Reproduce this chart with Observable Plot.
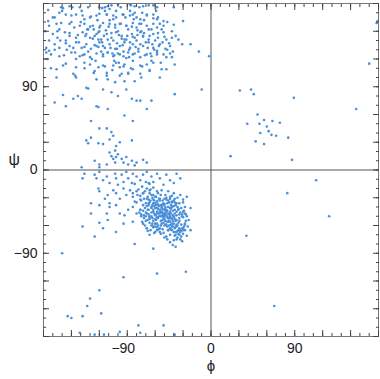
<!DOCTYPE html>
<html><head><meta charset="utf-8">
<script src="https://cdn.jsdelivr.net/npm/d3@7"></script>
<script src="https://cdn.jsdelivr.net/npm/@observablehq/plot@0.6"></script>
<style>html,body{margin:0;padding:0;background:#fff}</style>
</head><body><div id="chart"></div>
<script>
// [phi, psi] pairs, by region
const betaSheet = [
[-175,173],[-161,176],[-159,175],[-152,177],[-141,176],[-132,176],[-120,176],[-114,176],[-111,177],[-109,174],[-100,179],[-87,179],[-82,177],[-73,177],[-62,178],[-58,176],[-40,176],
[-163,170],[-156,168],[-150,167],[-145,168],[-138,167],[-136,163],[-130,165],[-123,167],[-120,169],[-112,168],[-105,167],[-102,165],[-94,168],[-87,167],[-84,168],[-80,165],[-76,163],[-69,167],[-62,168],[-58,163],[-51,161],[-30,161],[-175,161],[-168,165],
[-174,156],[-166,158],[-161,159],[-152,158],[-147,154],[-141,156],[-136,158],[-132,152],[-127,156],[-120,154],[-116,159],[-109,158],[-103,154],[-98,158],[-91,156],[-84,159],[-80,154],[-75,158],[-69,156],[-64,152],[-58,154],[-51,156],[-40,157],[-163,152],
[-170,147],[-165,143],[-157,149],[-152,145],[-145,143],[-138,149],[-134,147],[-130,143],[-125,145],[-121,149],[-118,141],[-112,147],[-107,143],[-102,149],[-96,145],[-91,141],[-85,147],[-82,143],[-76,149],[-73,145],[-67,141],[-62,147],[-57,143],[-51,149],[-48,141],[-42,143],[-35,141],[-31,136],[-156,140],
[-177,132],[-174,129],[-168,136],[-163,132],[-152,134],[-145,138],[-139,132],[-134,136],[-129,131],[-123,134],[-120,138],[-114,132],[-109,136],[-103,131],[-98,134],[-93,138],[-87,132],[-84,136],[-78,131],[-73,134],[-67,138],[-62,132],[-58,129],[-55,136],[-49,131],[-44,134],[-177,127],
[-172,125],[-163,123],[-150,127],[-141,123],[-136,125],[-130,122],[-123,126],[-116,125],[-111,127],[-105,123],[-100,126],[-94,123],[-89,127],[-84,125],[-76,122],[-69,125],[-64,123],[-58,127],[-51,125],[-44,126],[-42,122],
[-166,109],[-159,113],[-145,111],[-136,116],[-130,114],[-125,107],[-121,111],[-116,113],[-112,105],[-105,113],[-102,116],[-98,111],[-93,114],[-89,105],[-84,109],[-76,113],[-66,107],[-62,116],[-53,109],[-48,109],[-39,114],
[-148,104],[-145,100],[-134,89],[-123,98],[-112,102],[-111,98],[-103,95],[-98,102],[-93,96],[-89,104],[-82,96],[-75,100],[-55,100],
[-159,81],[-168,73],[-156,69],[-148,77],[-143,80],[-139,77],[-132,88],[-123,69],[-121,68],[-116,87],[-111,66],[-107,84],[-100,80],[-91,87],[-85,77],[-80,75],[-76,75],[-69,66],[-64,75],[-39,82]
];
const betaCore = [
[-120,150],[-115,145],[-110,155],[-105,140],[-100,150],[-95,135],[-90,145],[-85,155],[-80,140],[-75,150],
[-125,135],[-130,155],[-135,145],[-140,160],[-118,128],[-108,132],[-98,125],[-88,130],[-78,128],[-68,132],
[-122,162],[-112,168],[-102,172],[-92,165],[-82,170],[-72,162],[-62,158],[-66,145],[-70,138],[-60,140],
[-127,142],[-117,138],[-107,148],[-97,158],[-87,138],[-77,158],[-67,152],[-57,148],[-52,138],[-47,130],
[-132,128],[-142,138],[-152,148],[-162,140],[-145,120],[-155,130],[-165,150],[-170,165],[-160,172],[-150,160],
[-124,118],[-114,112],[-104,118],[-94,112],[-84,118],[-74,112],[-64,118],[-58,125],[-54,116],[-48,122],
[-119,156],[-109,162],[-99,146],[-89,152],[-79,146],[-69,168],[-59,172],[-129,166],[-139,172],[-149,176],
[-121,133],[-111,127],[-101,137],[-91,121],[-81,133],[-71,124],[-61,130],[-136,133],[-146,127],[-156,137],
[-113,151],[-103,157],[-93,141],[-83,163],[-73,144],[-63,136],[-53,152],[-123,147],[-133,152],[-143,146],
[-116,123],[-106,108],[-96,104],[-86,110],[-76,104],[-66,108],[-126,105],[-136,110],[-146,102],[-156,115],
[-117,175],[-107,178],[-97,176],[-87,172],[-77,176],[-67,178],[-57,165],[-47,160],[-42,150],[-38,145],
[-128,120],[-138,124],[-148,132],[-158,124],[-168,130],[-174,140],[-178,150],[-176,120],[-172,110],[-166,100],
[-84,144],[-79,151],[-91,156],[-96,142],[-101,131],[-106,126],[-111,141],[-116,134],[-121,141],[-126,152],
[-72,148],[-76,136],[-82,126],[-88,122],[-94,128],[-99,116],[-104,124],[-65,126],[-69,114],[-56,134],
[-50,144],[-45,137],[-41,128],[-55,158],[-62,164],[-74,170],[-86,178],[-95,168],[-105,163],[-114,172]
];
const bridge = [
[-129,53],[-120,45],[-112,45],[-134,32],[-132,29],[-129,35],[-121,29],[-116,28],[-107,41],[-105,37],[-93,59],[-84,53],[-85,32],[-109,33],[-103,21],[-102,26],[-98,30],
[-125,10],[-120,6],[-109,19],[-107,15],[-105,12],[-103,8],[-102,14],[-100,17],[-96,12],[-94,8],[-91,14],[-89,6],[-85,10],[-82,5],[-80,8],[-139,3],[-120,3],[-112,6],[-73,11],[-69,8],
[-22,136],[-13,128],[-2,123],[-10,87]
];
const alphaHelix = [
[-138,-9],[-136,-4],[-125,-5],[-123,-9],[-120,-2],[-116,-11],[-112,-7],[-109,-14],[-103,-4],[-102,-9],[-100,-16],[-96,-5],[-94,-13],[-91,-2],[-89,-9],[-85,-14],[-84,-4],[-80,-7],[-76,-11],[-73,-5],[-69,-2],[-67,-14],[-64,-7],[-62,-13],[-58,-4],[-55,-9],[-51,-16],[-48,-5],[-44,-11],[-40,-14],[-37,-4],[-33,-9],
[-121,-20],[-120,-23],[-114,-31],[-111,-27],[-109,-36],[-105,-22],[-102,-25],[-98,-31],[-94,-20],[-91,-27],[-87,-22],[-84,-29],[-82,-34],[-80,-23],[-76,-32],[-73,-25],[-69,-31],[-67,-36],[-66,-22],[-64,-27],[-62,-32],[-60,-29],[-58,-34],[-57,-25],[-55,-31],[-53,-22],[-51,-36],[-49,-27],[-48,-32],[-46,-23],[-44,-29],[-42,-34],[-40,-25],[-39,-31],[-37,-36],[-33,-27],[-30,-32],[-26,-29],[-22,-41],[-129,-36],
[-129,-47],[-120,-38],[-112,-47],[-109,-40],[-102,-38],[-98,-47],[-93,-49],[-89,-43],[-84,-40],[-80,-47],[-76,-43],[-75,-50],[-73,-38],[-71,-41],[-69,-47],[-67,-43],[-66,-50],[-64,-40],[-62,-45],[-60,-49],[-58,-41],[-57,-52],[-55,-45],[-53,-40],[-51,-50],[-49,-47],[-48,-43],[-46,-52],[-44,-45],[-42,-40],[-40,-50],[-39,-47],[-37,-54],[-35,-43],[-31,-50],[-28,-47],[-24,-54],
[-138,-61],[-125,-72],[-120,-57],[-116,-63],[-111,-54],[-102,-67],[-94,-58],[-84,-56],[-82,-80],[-73,-58],[-69,-63],[-66,-70],[-62,-61],[-60,-67],[-58,-58],[-55,-63],[-51,-68],[-49,-59],[-48,-72],[-46,-65],[-44,-70],[-42,-61],[-40,-76],[-39,-67],[-37,-61],[-33,-65],[-30,-63],[-28,-59],[-62,-85],[-22,-65]
];
const alphaCore = [
[-78,-21],[-76,-28],[-74,-18],[-72,-31],[-71,-23],[-70,-36],[-75,-33],[-79,-27],[-73,-25],[-69,-20],
[-68,-29],[-67,-38],[-66,-25],[-65,-33],[-64,-41],[-63,-30],[-62,-36],[-68,-43],[-65,-21],[-62,-27],[-67,-32],[-64,-46],[-69,-39],[-63,-38],[-66,-35],
[-61,-33],[-60,-41],[-59,-29],[-58,-45],[-57,-37],[-56,-50],[-55,-33],[-61,-47],[-59,-38],[-57,-42],[-56,-31],[-60,-36],[-58,-51],[-55,-43],[-62,-43],[-59,-48],[-57,-47],[-56,-39],[-61,-39],[-58,-34],
[-54,-45],[-53,-41],[-52,-49],[-51,-38],[-50,-53],[-49,-44],[-48,-49],[-54,-55],[-53,-50],[-52,-43],[-51,-57],[-50,-47],[-49,-40],[-48,-59],[-54,-38],[-53,-46],[-52,-54],[-51,-48],[-50,-42],[-49,-55],[-48,-45],[-54,-50],[-52,-37],[-50,-60],[-53,-58],[-51,-52],[-49,-49],[-55,-47],[-52,-46],[-50,-50],
[-47,-51],[-46,-47],[-45,-55],[-44,-50],[-43,-59],[-42,-53],[-41,-61],[-47,-61],[-46,-56],[-45,-48],[-44,-63],[-43,-52],[-42,-65],[-41,-55],[-47,-44],[-46,-65],[-45,-60],[-44,-56],[-43,-47],[-42,-58],[-47,-56],[-45,-52],[-43,-64],[-41,-49],[-46,-52],
[-40,-58],[-39,-63],[-38,-55],[-37,-67],[-36,-60],[-35,-65],[-34,-70],[-40,-67],[-39,-53],[-38,-70],[-37,-59],[-36,-73],[-35,-57],[-34,-63],[-40,-51],[-38,-61],[-36,-66],[-39,-71],[-37,-75],[-35,-69],
[-33,-67],[-32,-72],[-31,-63],[-30,-69],[-29,-61],[-33,-75],[-32,-59],[-31,-77],[-30,-65],[-28,-58],[-34,-55],[-32,-66],
[-82,-15],[-84,-25],[-80,-35],[-76,-43],[-72,-49],[-70,-55],[-66,-53],[-63,-58],[-60,-61],[-58,-65],[-54,-69],[-50,-73],[-47,-75],[-44,-78],[-41,-81],[-38,-83],[-44,-41],[-40,-39],[-37,-45],[-34,-48],[-30,-51],[-27,-55],[-25,-61],[-28,-65],[-26,-71],[-39,-43],[-42,-35],[-46,-33],[-50,-31],[-54,-27],[-58,-23],[-62,-19],[-66,-15],[-70,-13]
];
const alphaFlanks = [
[-48,-30],[-45,-35],[-42,-28],[-40,-33],[-38,-38],[-36,-30],[-34,-36],[-32,-41],[-30,-35],[-28,-40],[-46,-40],[-43,-42],[-41,-44],[-35,-42],[-33,-46],[-31,-48],[-29,-44],[-27,-48],[-47,-36],[-44,-31],[-39,-35],[-37,-49],[-34,-52],[-30,-45],[-26,-50],[-36,-40],[-50,-37],[-52,-33],[-49,-43],[-43,-38],
[-75,-48],[-72,-52],[-70,-50],[-68,-54],[-66,-57],[-64,-60],[-62,-55],[-60,-58],[-58,-62],[-74,-56],[-71,-60],[-69,-63],[-67,-48],[-65,-65],[-63,-52],[-61,-68],[-59,-54],[-57,-60],[-77,-46],[-73,-44],[-70,-46],[-66,-51],[-62,-62],[-56,-64],[-54,-60],[-52,-64],[-55,-67],[-60,-53],[-64,-50],[-68,-66]
];
const leftHanded = [
[31,86],[43,87],[46,82],[89,78],[50,60],[57,54],[66,53],[39,50],[52,50],[60,47],[74,51],[62,42],[53,40],[65,38],[70,37],[83,35],[48,31],[57,28],[21,15],[87,11],
[156,66],[170,115],[178,159],[179,161],
[38,-71],[82,-25],[113,-11],[127,-50],[68,-147]
];
const sparseLower = [
[-160,-90],[-94,-116],[-58,-112],[-27,-110],[-120,-130],[-130,-139],[-133,-147],[-138,-158],[-154,-158],[-150,-160],[-118,-155],[-78,-168],[-51,-168],[-141,-176],[-125,-178],[-115,-178],[-98,-175],[-76,-176],[-39,-178]
];

const labeledTicks = [-90, 0, 90];
const minorTicks = d3.range(-180, 181, 10);
const majorTicks = d3.range(-180, 181, 30);
const dotColor = "#4a8fd9";

const points = [...betaSheet, ...betaCore, ...bridge, ...alphaHelix, ...alphaCore, ...alphaFlanks, ...leftHanded, ...sparseLower]
  .map(([phi, psi]) => ({phi, psi}));

const blank = () => "";
const tickStroke = "#444";
const chart = Plot.plot({
  width: 380, height: 379,
  marginLeft: 43, marginRight: 2, marginTop: 3, marginBottom: 43,
  style: {fontFamily: "'Liberation Sans', Arial, Helvetica, sans-serif", fontSize: "14px", background: "#fff", color: "#222"},
  x: {domain: [-180, 180]},
  y: {domain: [-180, 180]},
  marks: [
    Plot.ruleX([0], {stroke: "#555", strokeWidth: 1}),
    Plot.ruleY([0], {stroke: "#555", strokeWidth: 1}),
    Plot.dot(points, {x: "phi", y: "psi", r: 1.3, fill: dotColor, stroke: null}),
    Plot.frame({stroke: "#777"}),
    Plot.axisX(minorTicks, {anchor: "bottom", tickSize: -3, tickFormat: blank, label: null, stroke: tickStroke}),
    Plot.axisX(majorTicks, {anchor: "bottom", tickSize: -6, tickFormat: blank, label: null, stroke: tickStroke}),
    Plot.axisX(minorTicks, {anchor: "top", tickSize: -3, tickFormat: blank, label: null, stroke: tickStroke}),
    Plot.axisX(majorTicks, {anchor: "top", tickSize: -6, tickFormat: blank, label: null, stroke: tickStroke}),
    Plot.axisY(minorTicks, {anchor: "left", tickSize: -3, tickFormat: blank, label: null, stroke: tickStroke}),
    Plot.axisY(majorTicks, {anchor: "left", tickSize: -6, tickFormat: blank, label: null, stroke: tickStroke}),
    Plot.axisY(minorTicks, {anchor: "right", tickSize: -3, tickFormat: blank, label: null, stroke: tickStroke}),
    Plot.axisY(majorTicks, {anchor: "right", tickSize: -6, tickFormat: blank, label: null, stroke: tickStroke}),
    Plot.axisX(labeledTicks.filter(d => d < 0), {anchor: "bottom", tickSize: 0, tickPadding: 7, dx: -4, label: null, fill: "#222"}),
    Plot.axisX(labeledTicks.filter(d => d >= 0), {anchor: "bottom", tickSize: 0, tickPadding: 7, label: null, fill: "#222"}),
    Plot.axisY(labeledTicks, {anchor: "left", tickSize: 0, tickPadding: 6, label: null, fill: "#222"}),
    Plot.text(["ϕ"], {text: d => d, frameAnchor: "bottom", dy: 34, fontSize: 15, fill: "#222"}),
    Plot.text(["ψ"], {text: d => d, frameAnchor: "left", dx: -35, dy: -10, fontSize: 16, fill: "#222"})
  ]
});
document.getElementById("chart").appendChild(chart);
</script>
</body></html>
